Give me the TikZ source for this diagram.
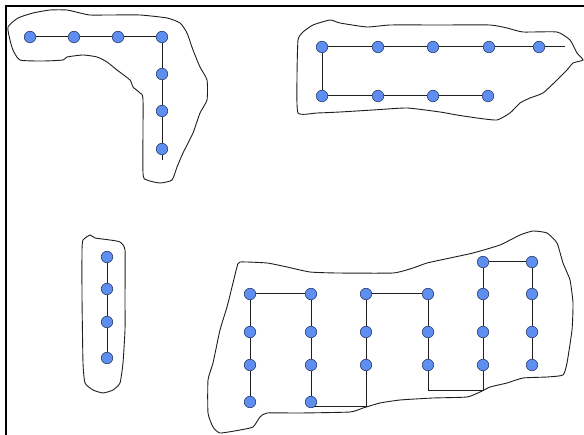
\documentclass[tikz,border=0pt]{standalone}
\begin{document}
\begin{tikzpicture}[x=1pt,y=-1pt,
  dot/.style={circle,inner sep=0pt,minimum size=11.5pt,fill={rgb,255:red,94;green,142;blue,240},draw={rgb,255:red,40;green,60;blue,110},line width=0.6pt},
  edge/.style={line width=1pt,draw={rgb,255:red,30;green,30;blue,30}},
  blob/.style={line width=0.9pt,draw={rgb,255:red,30;green,30;blue,30}}]
\useasboundingbox (0,0) rectangle (584,435);
\fill[white] (0,0) rectangle (584,435);
\draw[line width=1.2pt] (6,435) -- (6,6) -- (584,6);

% blobs
\draw[blob] plot[smooth cycle,tension=0.35] coordinates {
(8,27) (18,18) (33,13) (50,10) (67,10) (80,13) (90,15) (110,15) (140,15) (167,18) (180,23) (187,33) (193,50) (200,67) (207,80) (207,100) (200,113) (193,133) (183,153) (177,167) (172,180) (160,183) (147,180) (143,173) (143,100) (140,93) (133,87) (130,80) (117,70) (107,62) (97,57) (83,55) (67,57) (63,60) (43,61) (20,60) (13,50) (10,40)};
\draw[blob] plot[smooth cycle,tension=0.3] coordinates {
(298,40) (303,32) (313,25) (330,20) (340,23) (367,27) (390,25) (440,25) (490,25) (507,28) (523,32) (557,32) (570,40) (577,53) (583,60) (573,63) (567,70) (557,80) (543,93) (530,98) (520,103) (510,113) (497,120) (477,118) (457,115) (440,112) (407,108) (373,110) (340,112) (317,113) (298,113) (297,77)};
\draw[blob] plot[smooth cycle,tension=0.3] coordinates {
(83,240) (90,235) (95,238) (110,240) (120,242) (125,250) (125,297) (125,330) (123,363) (120,383) (113,390) (103,393) (93,390) (85,383) (83,363) (82,297) (82,250)};
\draw[blob] plot[smooth cycle,tension=0.3] coordinates {
(240,262) (267,263) (287,267) (310,272) (337,273) (393,273) (413,268) (427,263) (450,258) (473,253) (500,245) (520,235) (533,231) (547,233) (557,243) (563,263) (570,280) (573,303) (572,330) (567,363) (563,375) (547,377) (523,378) (507,383) (490,387) (480,392) (467,397) (433,398) (400,400) (380,403) (363,408) (350,412) (300,413) (267,413) (260,417) (253,427) (240,430) (220,433) (213,427) (208,413) (208,380) (213,363) (220,330) (227,307) (233,283) (237,267)};

% group 1
\node[dot] (a1) at (30,37) {};
\node[dot] (a2) at (74,37) {};
\node[dot] (a3) at (118,37) {};
\node[dot] (a4) at (162,37) {};
\node[dot] (a5) at (162,74) {};
\node[dot] (a6) at (162,111) {};
\node[dot] (a7) at (162,149) {};
\coordinate (aend) at (162,160);
\draw[edge] (a1)--(a2) (a2)--(a3) (a3)--(a4) (a4)--(a5) (a5)--(a6) (a6)--(a7) (a7)--(aend);

% group 2
\node[dot] (b1) at (322,47) {};
\node[dot] (b2) at (378,47) {};
\node[dot] (b3) at (433,47) {};
\node[dot] (b4) at (489,47) {};
\node[dot] (b5) at (539,47) {};
\coordinate (bend) at (565,47);
\node[dot] (b6) at (322,96) {};
\node[dot] (b7) at (378,96) {};
\node[dot] (b8) at (433,96) {};
\node[dot] (b9) at (488,96) {};
\draw[edge] (b1)--(b2) (b2)--(b3) (b3)--(b4) (b4)--(b5) (b5)--(bend)
  (b1)--(b6) (b6)--(b7) (b7)--(b8) (b8)--(b9);

% group 3
\node[dot] (c1) at (107,257) {};
\node[dot] (c2) at (107,289) {};
\node[dot] (c3) at (107,322) {};
\node[dot] (c4) at (107,358) {};
\draw[edge] (c1)--(c2) (c2)--(c3) (c3)--(c4);

% group 4
\foreach \c/\x in {1/250,2/311,3/366,4/428,5/483,6/532}{
  \node[dot] (d\c a) at (\x,294) {};
  \node[dot] (d\c b) at (\x,332) {};
  \node[dot] (d\c c) at (\x,365) {};
}
\node[dot] (d1d) at (250,402) {};
\node[dot] (d2d) at (311,402) {};
\node[dot] (d5t) at (483,262) {};
\node[dot] (d6t) at (532,262) {};
\coordinate (k0) at (314,407);
\coordinate (k1) at (366,407);
\coordinate (k2) at (428,391);
\coordinate (k3) at (483,391);
\draw[edge] (d1a)--(d2a) (d1a)--(d1b) (d1b)--(d1c) (d1c)--(d1d)
  (d2a)--(d2b) (d2b)--(d2c) (d2c)--(d2d)
  (k0) -- (k1) -- (d3c) (d3c)--(d3b) (d3b)--(d3a) (d3a)--(d4a)
  (d4a)--(d4b) (d4b)--(d4c) (d4c)--(k2) -- (k3) -- (d5c)
  (d5c)--(d5b) (d5b)--(d5a) (d5a)--(d5t) (d5t)--(d6t)
  (d6t)--(d6a) (d6a)--(d6b) (d6b)--(d6c);
\end{tikzpicture}
\end{document}
